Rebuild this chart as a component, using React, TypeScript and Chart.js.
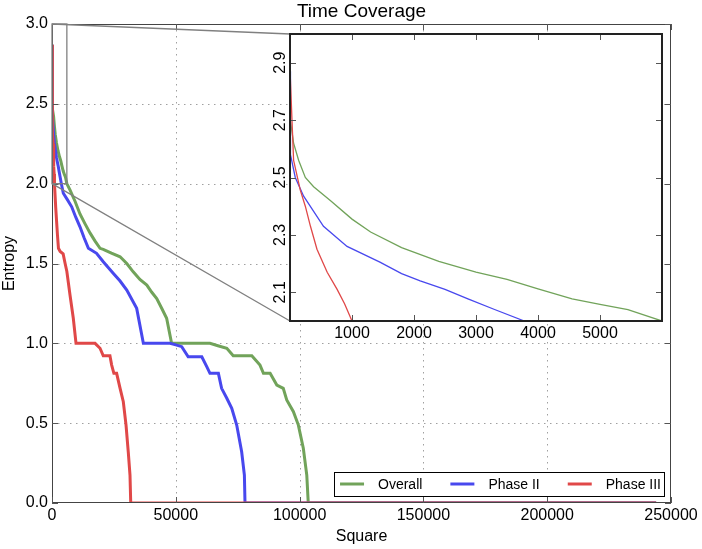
import React, { useEffect, useRef } from 'react';
import { Chart, registerables } from 'chart.js';

Chart.register(...registerables);

// ---------------- data ----------------
const seriesLabels = ['Overall', 'Phase II', 'Phase III'];
const seriesColors = ['#71a35a', '#4848ee', '#e04848'];

const overallX = [0, 5, 58, 139, 247, 381, 650, 1000, 1300, 1800, 2400, 3000, 3500, 4000, 4550, 5000, 5450, 6000, 7300, 9300, 11300, 13300, 15400, 17400, 19400, 20700, 24000, 27500, 30200, 32800, 35500, 38300, 40300, 42300, 44300, 46300, 48300, 56000, 63800, 67000, 70600, 73200, 80700, 84000, 85400, 88100, 90800, 93400, 94800, 97500, 99500, 101500, 102900, 103500, 244000];
const overallY = [2.87, 2.70, 2.62, 2.56, 2.50, 2.468, 2.42, 2.355, 2.31, 2.256, 2.208, 2.17, 2.145, 2.112, 2.077, 2.058, 2.04, 2.0, 1.96, 1.89, 1.81, 1.75, 1.69, 1.64, 1.595, 1.589, 1.565, 1.542, 1.50, 1.448, 1.40, 1.365, 1.32, 1.28, 1.22, 1.157, 1.0, 1.0, 1.0, 0.985, 0.969, 0.922, 0.922, 0.864, 0.812, 0.812, 0.739, 0.718, 0.645, 0.572, 0.488, 0.343, 0.175, 0.0, 0.0];

const phase2X = [0, 3, 12, 85, 220, 540, 920, 1450, 1800, 2100, 2500, 2870, 3300, 3780, 4570, 6200, 7950, 9600, 11300, 13000, 14700, 18000, 20700, 24800, 27500, 30200, 34200, 36900, 47700, 50000, 52400, 55000, 60500, 62500, 63800, 67200, 68500, 70600, 72600, 74600, 76600, 77700, 77950, 244000];
const phase2Y = [2.87, 2.66, 2.58, 2.50, 2.435, 2.33, 2.26, 2.205, 2.165, 2.14, 2.11, 2.077, 2.04, 2.0, 1.94, 1.90, 1.855, 1.79, 1.73, 1.66, 1.595, 1.564, 1.511, 1.438, 1.39, 1.334, 1.219, 1.0, 1.0, 0.99, 0.979, 0.916, 0.916, 0.854, 0.812, 0.812, 0.718, 0.656, 0.593, 0.488, 0.321, 0.175, 0.0, 0.0];

const phase3X = [0, 5, 32, 58, 166, 247, 330, 435, 600, 760, 880, 1000, 1500, 2200, 2600, 3300, 4500, 5300, 6000, 7300, 8600, 9700, 17400, 19400, 20700, 23400, 24100, 25000, 26100, 27500, 28800, 29900, 30800, 31500, 31800, 244000];
const phase3Y = [2.87, 2.85, 2.70, 2.56, 2.456, 2.40, 2.33, 2.25, 2.17, 2.11, 2.06, 2.0, 1.85, 1.68, 1.595, 1.575, 1.56, 1.50, 1.45, 1.30, 1.157, 1.0, 1.0, 0.969, 0.922, 0.922, 0.864, 0.812, 0.812, 0.718, 0.634, 0.488, 0.32, 0.175, 0.0, 0.0];

const mainXTicks = [0, 50000, 100000, 150000, 200000, 250000];
const mainYTicks = [0, 0.5, 1.0, 1.5, 2.0, 2.5, 3.0];
const insetXTicks = [1000, 2000, 3000, 4000, 5000];
const insetYTicks = [2.1, 2.3, 2.5, 2.7, 2.9];
const zoomXRange = [0, 6000];
const zoomYRange = [2.0, 3.0];

const titleText = 'Time Coverage';
const xTitle = 'Square';
const yTitle = 'Entropy';

// ---------------- layout ----------------
const W = 702;
const H = 549;
const INSET_CANVAS = { left: 250, top: 24, width: 430, height: 330 };
const INSET_PAD = { left: 40, top: 10, right: 18, bottom: 33 };
const INSET_FRAME = {
  left: INSET_CANVAS.left + INSET_PAD.left,
  top: INSET_CANVAS.top + INSET_PAD.top,
  right: INSET_CANVAS.left + INSET_CANVAS.width - INSET_PAD.right,
  bottom: INSET_CANVAS.top + INSET_CANVAS.height - INSET_PAD.bottom,
};
const FONT = '"Liberation Sans", Arial, Helvetica, sans-serif';

const toPts = (xs: number[], ys: number[]) => xs.map((x, i) => ({ x, y: ys[i] }));
const seriesX = [overallX, phase2X, phase3X];
const seriesY = [overallY, phase2Y, phase3Y];

function makeDatasets(width: number) {
  return seriesLabels.map((label, i) => ({
    label,
    data: toPts(seriesX[i], seriesY[i]),
    borderColor: seriesColors[i],
    backgroundColor: seriesColors[i],
    showLine: true,
    pointRadius: 0,
    borderWidth: width,
    tension: 0,
    order: 3 - i,
  }));
}

const mainDecor = {
  id: 'mainDecor',
  beforeDatasetsDraw(chart: any) {
    const { ctx, chartArea: a, scales } = chart;
    ctx.save();
    ctx.strokeStyle = '#a0a0a0';
    ctx.lineWidth = 1;
    ctx.setLineDash([1.5, 4.5]);
    mainXTicks.forEach((v) => {
      const px = Math.round(scales.x.getPixelForValue(v)) + 0.5;
      if (px < a.left + 1 || px > a.right - 1) return;
      ctx.beginPath();
      ctx.moveTo(px, a.top);
      ctx.lineTo(px, a.bottom);
      ctx.stroke();
    });
    mainYTicks.forEach((v) => {
      const py = Math.round(scales.y.getPixelForValue(v)) + 0.5;
      if (py < a.top + 1 || py > a.bottom - 1) return;
      ctx.beginPath();
      ctx.moveTo(a.left, py);
      ctx.lineTo(a.right, py);
      ctx.stroke();
    });
    ctx.restore();
  },
  afterDatasetsDraw(chart: any) {
    const { ctx, chartArea: a, scales } = chart;
    ctx.save();
    // frame
    ctx.strokeStyle = '#444';
    ctx.lineWidth = 1;
    ctx.strokeRect(a.left + 0.5, a.top + 0.5, a.right - a.left - 1, a.bottom - a.top - 1);
    // inner ticks
    ctx.strokeStyle = '#555';
    const tl = 6;
    mainXTicks.forEach((v) => {
      const px = Math.round(scales.x.getPixelForValue(v)) + 0.5;
      ctx.beginPath();
      ctx.moveTo(px, a.bottom);
      ctx.lineTo(px, a.bottom - tl);
      ctx.moveTo(px, a.top);
      ctx.lineTo(px, a.top + tl);
      ctx.stroke();
    });
    mainYTicks.forEach((v) => {
      const py = Math.round(scales.y.getPixelForValue(v)) + 0.5;
      ctx.beginPath();
      ctx.moveTo(a.left, py);
      ctx.lineTo(a.left + tl, py);
      ctx.moveTo(a.right, py);
      ctx.lineTo(a.right - tl, py);
      ctx.stroke();
    });
    // zoom rectangle + connectors
    const rx0 = scales.x.getPixelForValue(zoomXRange[0]);
    const rx1 = scales.x.getPixelForValue(zoomXRange[1]);
    const ry0 = scales.y.getPixelForValue(zoomYRange[1]);
    const ry1 = scales.y.getPixelForValue(zoomYRange[0]);
    ctx.strokeStyle = '#808080';
    ctx.lineWidth = 1.3;
    ctx.strokeRect(rx0, ry0, rx1 - rx0, ry1 - ry0);
    ctx.beginPath();
    ctx.moveTo(rx0, ry0);
    ctx.lineTo(INSET_FRAME.left, INSET_FRAME.top);
    ctx.moveTo(rx0, ry1);
    ctx.lineTo(INSET_FRAME.left, INSET_FRAME.bottom);
    ctx.stroke();
    // legend
    ctx.font = `14px ${FONT}`;
    const pad = 6, handle = 24, gap = 14, entryGap = 28, rpad = 3;
    const tw = seriesLabels.map((l) => ctx.measureText(l).width);
    const total = pad + tw.reduce((s, w) => s + handle + gap + w, 0) + entryGap * (seriesLabels.length - 1) + rpad;
    const bh = 24;
    const bx = a.right - 7 - total;
    const by = a.bottom - 7 - bh;
    ctx.fillStyle = '#fff';
    ctx.fillRect(bx, by, total, bh);
    ctx.strokeStyle = '#000';
    ctx.lineWidth = 1;
    ctx.strokeRect(Math.round(bx) + 0.5, Math.round(by) + 0.5, Math.round(total), bh);
    let cx = bx + pad;
    const cy = by + bh / 2;
    seriesLabels.forEach((l, i) => {
      ctx.strokeStyle = seriesColors[i];
      ctx.lineWidth = 3;
      ctx.beginPath();
      ctx.moveTo(cx, cy);
      ctx.lineTo(cx + handle, cy);
      ctx.stroke();
      ctx.fillStyle = '#000';
      ctx.textAlign = 'left';
      ctx.textBaseline = 'middle';
      ctx.fillText(l, cx + handle + gap, cy + 1);
      cx += handle + gap + tw[i] + entryGap;
    });
    ctx.restore();
  },
};

const insetDecor = {
  id: 'insetDecor',
  beforeDatasetsDraw(chart: any) {
    const { ctx, chartArea: a } = chart;
    ctx.save();
    ctx.fillStyle = '#fff';
    ctx.fillRect(a.left, a.top, a.right - a.left, a.bottom - a.top);
    ctx.restore();
  },
  afterDatasetsDraw(chart: any) {
    const { ctx, chartArea: a, scales } = chart;
    ctx.save();
    ctx.strokeStyle = '#555';
    ctx.lineWidth = 1;
    const tl = 6;
    insetXTicks.forEach((v) => {
      const px = Math.round(scales.x.getPixelForValue(v)) + 0.5;
      ctx.beginPath();
      ctx.moveTo(px, a.bottom);
      ctx.lineTo(px, a.bottom - tl);
      ctx.moveTo(px, a.top);
      ctx.lineTo(px, a.top + tl);
      ctx.stroke();
    });
    insetYTicks.forEach((v) => {
      const py = Math.round(scales.y.getPixelForValue(v)) + 0.5;
      ctx.beginPath();
      ctx.moveTo(a.left, py);
      ctx.lineTo(a.left + tl, py);
      ctx.moveTo(a.right, py);
      ctx.lineTo(a.right - tl, py);
      ctx.stroke();
    });
    ctx.strokeStyle = '#222';
    ctx.lineWidth = 2;
    ctx.strokeRect(a.left, a.top, a.right - a.left, a.bottom - a.top);
    // rotated y tick labels
    ctx.fillStyle = '#000';
    ctx.font = `16px ${FONT}`;
    insetYTicks.forEach((v) => {
      const py = scales.y.getPixelForValue(v);
      ctx.save();
      ctx.translate(a.left - 5, py);
      ctx.rotate(-Math.PI / 2);
      ctx.textAlign = 'center';
      ctx.textBaseline = 'alphabetic';
      ctx.fillText(v.toFixed(1), 0, 0);
      ctx.restore();
    });
    ctx.restore();
  },
};

export default function App() {
  const mainRef = useRef<HTMLCanvasElement | null>(null);
  const insetRef = useRef<HTMLCanvasElement | null>(null);

  useEffect(() => {
    Chart.defaults.font.family = FONT;
    Chart.defaults.color = '#000';
    const main = new Chart(mainRef.current as HTMLCanvasElement, {
      type: 'scatter',
      data: { datasets: makeDatasets(3) as any },
      options: {
        responsive: false,
        animation: false,
        devicePixelRatio: 1,
        layout: { padding: { left: 0, right: 31, top: 0, bottom: 0 } },
        plugins: {
          legend: { display: false },
          tooltip: { enabled: false },
          title: {
            display: true,
            text: titleText,
            color: '#000',
            font: { size: 19, weight: 'normal' },
            padding: { top: 0, bottom: 1.2 },
            fullSize: false,
          },
        },
        scales: {
          x: {
            type: 'linear',
            min: mainXTicks[0],
            max: mainXTicks[mainXTicks.length - 1],
            afterBuildTicks: (s: any) => { s.ticks = mainXTicks.map((v) => ({ value: v })); },
            afterFit: (s: any) => { s.height = 46; },
            ticks: { callback: (v: any) => String(v), font: { size: 16 }, color: '#000', padding: 3, maxRotation: 0, autoSkip: false },
            grid: { display: false, drawTicks: false },
            border: { display: false },
            title: { display: true, text: xTitle, color: '#000', font: { size: 16 }, padding: { top: 0, bottom: 3 } },
          },
          y: {
            type: 'linear',
            min: mainYTicks[0],
            max: mainYTicks[mainYTicks.length - 1],
            afterBuildTicks: (s: any) => { s.ticks = mainYTicks.map((v) => ({ value: v })); },
            afterFit: (s: any) => { s.width = 52; },
            ticks: { callback: (v: any) => Number(v).toFixed(1), font: { size: 16 }, color: '#000', padding: 4, autoSkip: false },
            grid: { display: false, drawTicks: false },
            border: { display: false },
            title: { display: true, text: yTitle, color: '#000', font: { size: 16 }, padding: { top: 0, bottom: 0 } },
          },
        },
      } as any,
      plugins: [mainDecor],
    });

    const inset = new Chart(insetRef.current as HTMLCanvasElement, {
      type: 'scatter',
      data: { datasets: makeDatasets(1.3) as any },
      options: {
        responsive: false,
        animation: false,
        devicePixelRatio: 1,
        layout: { padding: { left: 0, right: INSET_PAD.right, top: INSET_PAD.top, bottom: 0 } },
        plugins: { legend: { display: false }, tooltip: { enabled: false } },
        scales: {
          x: {
            type: 'linear',
            min: zoomXRange[0],
            max: zoomXRange[1],
            afterBuildTicks: (s: any) => { s.ticks = insetXTicks.map((v) => ({ value: v })); },
            afterFit: (s: any) => { s.height = INSET_PAD.bottom; },
            ticks: { callback: (v: any) => String(v), font: { size: 16 }, color: '#000', padding: 3, maxRotation: 0, autoSkip: false },
            grid: { display: false, drawTicks: false },
            border: { display: false },
          },
          y: {
            type: 'linear',
            min: zoomYRange[0],
            max: zoomYRange[1],
            afterBuildTicks: (s: any) => { s.ticks = insetYTicks.map((v) => ({ value: v })); },
            afterFit: (s: any) => { s.width = INSET_PAD.left; },
            ticks: { display: false },
            grid: { display: false, drawTicks: false },
            border: { display: false },
          },
        },
      } as any,
      plugins: [insetDecor],
    });

    return () => {
      main.destroy();
      inset.destroy();
    };
  }, []);

  return (
    <div style={{ position: 'fixed', left: 0, top: 0, width: W, height: H, background: '#fff' }}>
      <canvas ref={mainRef} width={W} height={H} style={{ position: 'absolute', left: 0, top: 0, width: W, height: H }} />
      <canvas
        ref={insetRef}
        width={INSET_CANVAS.width}
        height={INSET_CANVAS.height}
        style={{ position: 'absolute', left: INSET_CANVAS.left, top: INSET_CANVAS.top, width: INSET_CANVAS.width, height: INSET_CANVAS.height }}
      />
    </div>
  );
}
